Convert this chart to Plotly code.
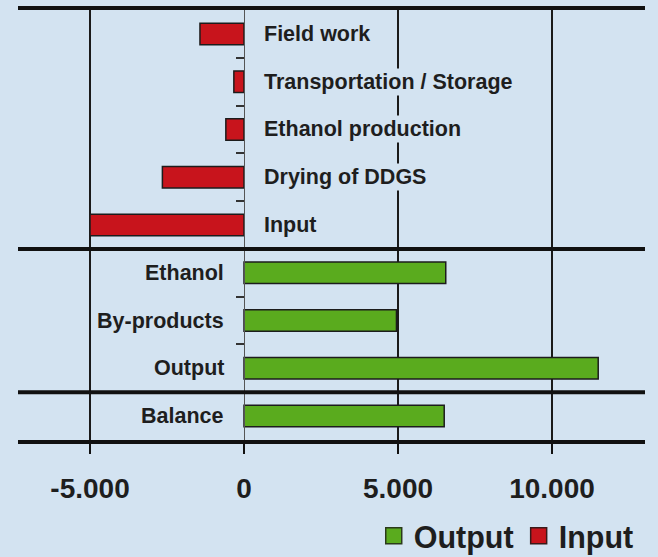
import plotly.graph_objects as go

# ---------------- data ----------------
input_categories = ["Field work", "Transportation / Storage", "Ethanol production",
                    "Drying of DDGS", "Input"]
input_values = [-1430, -330, -590, -2650, -5000]

output_categories = ["Ethanol", "By-products", "Output"]
output_values = [6550, 4950, 11500]

balance_categories = ["Balance"]
balance_values = [6500]

tick_values = [-5000, 0, 5000, 10000]
tick_labels = ["-5.000", "0", "5.000", "10.000"]

# ---------------- styling ----------------
BG = "#d3e3f1"
RED = "#c8141c"
GREEN = "#5aab1e"
EDGE = "#1c1c1c"
TXT = "#1e1e1e"
FONT = "Liberation Sans, Arial, sans-serif"

n_in = len(input_categories)
n_out = len(output_categories)
n_bal = len(balance_categories)
n_all = n_in + n_out + n_bal

in_pos = list(range(n_in))
green_cats = output_categories + balance_categories
green_vals = output_values + balance_values
green_pos = list(range(n_in, n_all))

x_min, x_max = -7338, 13019
zero_frac = (0 - x_min) / (x_max - x_min)

fig = go.Figure()

fig.add_trace(go.Bar(
    name="Output", orientation="h", y=green_pos, x=green_vals,
    marker=dict(color=GREEN, line=dict(color=EDGE, width=1.5)),
    width=0.45, hoverinfo="x", legendgroup="out", showlegend=False,
))
fig.add_trace(go.Bar(
    name="Input", orientation="h", y=in_pos, x=input_values,
    marker=dict(color=RED, line=dict(color=EDGE, width=1.5)),
    width=0.45, hoverinfo="x", legendgroup="in", showlegend=False,
))
# legend entries (larger square symbols than the fixed bar icon)
fig.add_trace(go.Scatter(
    name="Output", x=[None], y=[None], mode="markers", legendgroup="out",
    marker=dict(symbol="square", size=16, color=GREEN, line=dict(color="#2a3a1a", width=1.5)),
))
fig.add_trace(go.Scatter(
    name="Input", x=[None], y=[None], mode="markers", legendgroup="in",
    marker=dict(symbol="square", size=16, color=RED, line=dict(color="#3a1a1a", width=1.5)),
))

# category labels next to the zero line
lab_font = dict(family=FONT, size=21.5, color=TXT, weight="bold")
for cat, pos in zip(input_categories, in_pos):
    fig.add_annotation(x=0, y=pos, text=cat, showarrow=False, xanchor="left",
                       xshift=18, yanchor="middle", bgcolor=BG, borderpad=1,
                       font=lab_font)
for cat, pos in zip(green_cats, green_pos):
    fig.add_annotation(x=0, y=pos, text=cat, showarrow=False, xanchor="right",
                       xshift=-18, yanchor="middle", bgcolor=BG, borderpad=1,
                       font=lab_font)

# group separator lines
for b in [n_in - 0.5, n_in + n_out - 0.5]:
    fig.add_shape(type="line", xref="paper", x0=0, x1=1, yref="y", y0=b, y1=b,
                  line=dict(color="#111111", width=4))

# small ticks at boundaries within groups
inner_bounds = [i + 0.5 for i in range(n_in - 1)] + \
               [n_in + i + 0.5 for i in range(n_out - 1)]

fig.update_layout(
    width=658, height=557,
    margin=dict(l=18, r=13, t=10, b=117, autoexpand=False),
    paper_bgcolor=BG, plot_bgcolor="rgba(0,0,0,0)",
    barmode="overlay",
    showlegend=True,
    legend=dict(orientation="h", x=0.99, xanchor="right", y=-0.223, yanchor="middle",
                font=dict(family=FONT, size=30.5, color=TXT, weight="bold"),
                traceorder="normal", bgcolor="rgba(0,0,0,0)", itemsizing="trace"),
    xaxis=dict(range=[x_min, x_max], tickvals=tick_values, ticktext=tick_labels,
               showgrid=True, gridcolor="#1a1a1a", gridwidth=2,
               zeroline=True, zerolinecolor="#555555", zerolinewidth=1,
               showline=True, linecolor="#111111", linewidth=4, mirror=True,
               ticks="outside", ticklen=10, tickwidth=2, tickcolor="#111111",
               ticklabelstandoff=10,
               tickfont=dict(family=FONT, size=28, color=TXT, weight="bold"),
               fixedrange=True),
    yaxis=dict(range=[n_all - 0.5, -0.5], anchor="free", position=zero_frac,
               side="left", showline=True, linecolor="#555555", linewidth=1,
               tickmode="array", tickvals=inner_bounds, ticks="outside",
               ticklen=8, tickwidth=1.5, tickcolor="#333333",
               showticklabels=False, showgrid=False, zeroline=False,
               fixedrange=True),
)

fig.write_html("out.html", config={"displayModeBar": False},
               post_script="document.body.style.margin='0';")
